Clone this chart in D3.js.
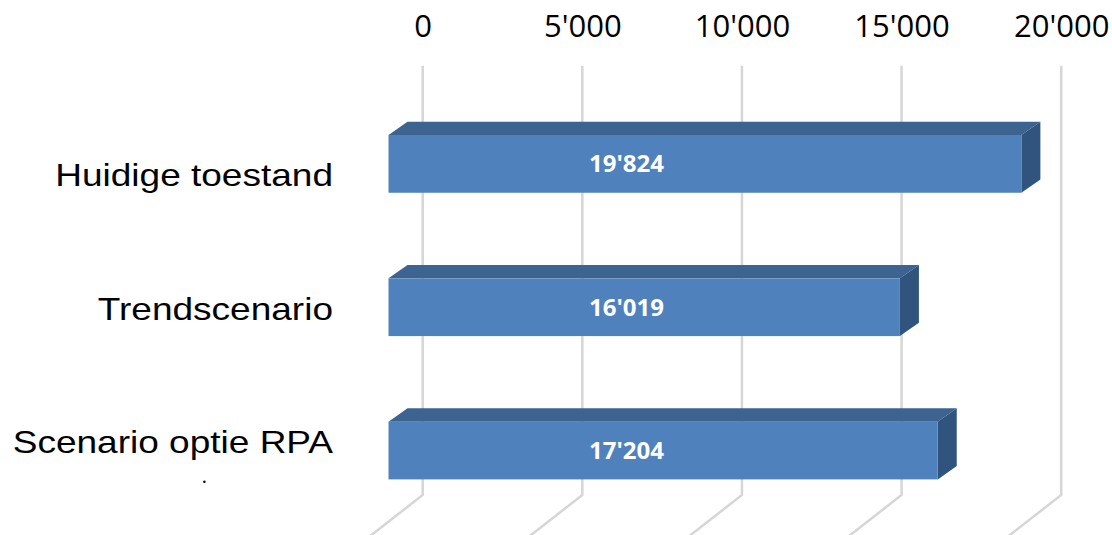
<!DOCTYPE html>
<html>
<head>
<meta charset="utf-8">
<script src="https://cdn.jsdelivr.net/npm/d3@7"></script>
<style>
  html, body { margin: 0; padding: 0; background: #ffffff; }
  svg { display: block; }
</style>
</head>
<body>
<svg id="chart" width="1112" height="535"></svg>
<script>
// Data
const categories = ["Huidige toestand", "Trendscenario", "Scenario optie RPA"];
const values = [19824, 16019, 17204];
const tickValues = [0, 5000, 10000, 15000, 20000];
const labelExtraLines = ["", "", "•"];

// Number format with apostrophe as thousands separator
const locale = d3.formatLocale({ decimal: ".", thousands: "'", grouping: [3], currency: ["", ""] });
const fmt = locale.format(",d");

const svg = d3.select("#chart");

// Layout of the pseudo-3D box
const frontX0 = 388.5;          // x of value 0 on the bar front faces
const wallDx = 34.2;            // horizontal shift from bar fronts to the back wall
const depth = { dx: 19, dy: 13.3 }; // bar extrusion
const wallTop = 65.7, wallBottom = 495;
const floorSlope = 0.78;

const x = d3.scaleLinear().domain([0, 20000]).range([0, 638.5]);
const y = d3.scaleBand().domain(categories).range([135, 479.4]).paddingInner(0.597).paddingOuter(0);
const yLabel = d3.scalePoint().domain(categories).range([186, 453]);

// Gridlines on back wall + floor
const grid = svg.append("g").attr("class", "grid");
tickValues.forEach(t => {
  const gx = frontX0 + wallDx + x(t);
  const floorLen = 70;
  grid.append("path")
    .attr("d", `M${gx},${wallTop} L${gx},${wallBottom} L${gx - floorLen},${wallBottom + floorLen * floorSlope}`)
    .attr("fill", "none")
    .attr("stroke", "#d6d6d6")
    .attr("stroke-width", 2.5);
});

// Tick labels along the top
const axis = d3.axisTop(d3.scaleLinear().domain(x.domain()).range(x.range().map(r => r + frontX0 + wallDx)))
  .tickValues(tickValues)
  .tickFormat(fmt)
  .tickSize(0)
  .tickPadding(0);
const ax = svg.append("g").attr("transform", "translate(0,36.7)").call(axis);
ax.select(".domain").remove();
ax.selectAll("text")
  .attr("font-family", "'Open Sans', sans-serif")
  .attr("font-size", 31)
  .attr("fill", "#000")
  .attr("dy", 0);

// Bars
const bars = svg.append("g").attr("class", "bars");
categories.forEach((c, i) => {
  const v = values[i];
  const x0 = frontX0, x1 = frontX0 + x(v);
  const yt = y(c), yb = y(c) + y.bandwidth();
  const g = bars.append("g");
  // top face
  g.append("path")
    .attr("d", `M${x0},${yt} L${x0 + depth.dx},${yt - depth.dy} L${x1 + depth.dx},${yt - depth.dy} L${x1},${yt} Z`)
    .attr("fill", "#3d6390");
  // side face
  g.append("path")
    .attr("d", `M${x1},${yt} L${x1 + depth.dx},${yt - depth.dy} L${x1 + depth.dx},${yb - depth.dy} L${x1},${yb} Z`)
    .attr("fill", "#31547f");
  // front face
  g.append("rect")
    .attr("x", x0).attr("y", yt)
    .attr("width", x1 - x0).attr("height", yb - yt)
    .attr("fill", "#4f81bd");
  // value label
  g.append("text")
    .attr("x", 626.5)
    .attr("y", (yt + yb) / 2 + 8.5)
    .attr("text-anchor", "middle")
    .attr("font-family", "'Open Sans', sans-serif")
    .attr("font-weight", "bold")
    .attr("font-size", 24)
    .attr("fill", "#ffffff")
    .text(fmt(v));
});

// Category labels (horizontally widened sans)
const cats = svg.append("g").attr("class", "categories");
categories.forEach((c, i) => {
  cats.append("text")
    .attr("transform", `translate(333,${yLabel(c)}) scale(1.157,1)`)
    .attr("text-anchor", "end")
    .attr("font-family", "'Liberation Sans', Arial, sans-serif")
    .attr("font-size", 32)
    .attr("fill", "#000")
    .text(c);
  if (labelExtraLines[i]) {
    cats.append("text")
      .attr("x", 204.3)
      .attr("y", yLabel(c) + 32)
      .attr("text-anchor", "middle")
      .attr("font-family", "'Liberation Sans', Arial, sans-serif")
      .attr("font-size", 9)
      .attr("fill", "#000")
      .text(labelExtraLines[i]);
  }
});
</script>
</body>
</html>
